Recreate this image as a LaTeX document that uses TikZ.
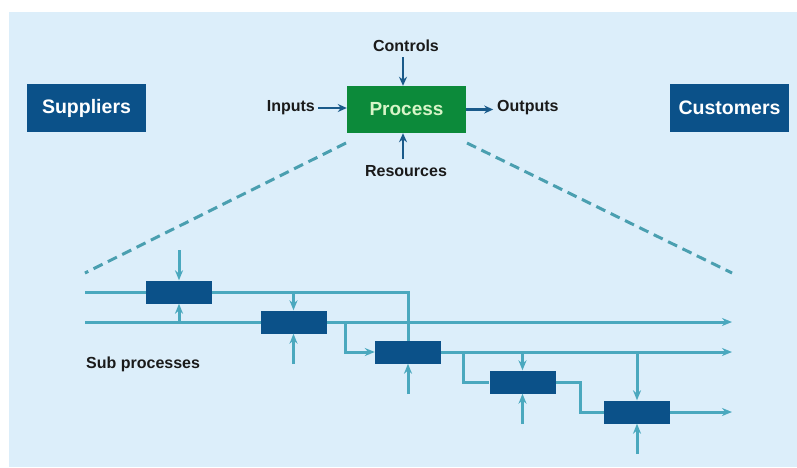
\documentclass[tikz,border=0pt]{standalone}
\usepackage{fontspec}
\setmainfont{Liberation Sans}
\usetikzlibrary{arrows.meta}
\definecolor{bgblue}{HTML}{DCEEFA}
\definecolor{darkblue}{HTML}{0B5189}
\definecolor{procgreen}{HTML}{0C8A3A}
\definecolor{proctext}{HTML}{D8F5C8}
\definecolor{arrowblue}{HTML}{1A5A8A}
\definecolor{teal}{HTML}{4AA8BE}
\definecolor{dashteal}{HTML}{4A9FB0}
\definecolor{txt}{HTML}{1A1A1A}
\tikzset{
  bigbox/.style={rectangle, fill=darkblue, text=white, minimum width=119pt, minimum height=48pt, inner sep=0pt, font=\fontsize{19.5}{23}\selectfont\bfseries},
  procbox/.style={rectangle, fill=procgreen, text=proctext, minimum width=119pt, minimum height=47pt, inner sep=0pt, font=\fontsize{19}{23}\selectfont\bfseries},
  subbox/.style={rectangle, fill=darkblue, minimum width=66pt, minimum height=23pt, inner sep=0pt},
  lbl/.style={text=txt, inner sep=0pt, font=\fontsize{16}{19}\selectfont\bfseries},
  toparrow/.style={draw=arrowblue, line width=2.6pt, -{Stealth[length=9pt,width=8pt]}},
  flow/.style={draw=teal, line width=3pt},
  flowarrow/.style={flow, -{Stealth[length=10pt,width=8pt]}},
  dashline/.style={draw=dashteal, line width=3pt, dash pattern=on 10pt off 6pt},
}
\begin{document}
\begin{tikzpicture}[x=1pt,y=-1pt]
\useasboundingbox (0,0) rectangle (797,467);
\fill[white] (0,0) rectangle (797,467);
\fill[bgblue] (9,12) rectangle (797,467);

% top level
\node[bigbox] (sup) at (86.5,108) {Suppliers};
\node[bigbox] (cus) at (729.5,108) {Customers};
\node[procbox] (proc) at (406.5,109.5) {Process};
\node[lbl, anchor=east] (inp) at (315,108) {Inputs};
\node[lbl, anchor=west] (out) at (497,108) {Outputs};
\node[lbl] (ctl) at (406,46) {Controls};
\node[lbl] (res) at (406,171) {Resources};

\draw[toparrow] (inp.east) ++(3,0) coordinate (ia) -- (ia -| proc.west);
\draw[toparrow] (proc.east) -- ++(27,0) coordinate (oa);
\coordinate (ca) at (403,57);
\draw[toparrow] (ca) -- (ca |- proc.north);
\coordinate (ra) at (403,159);
\draw[toparrow] (ra) -- (ra |- proc.south);

% dashed zoom lines
\coordinate (dl0) at (346,143);
\coordinate (dl1) at (85,273);
\coordinate (dr0) at (467,143);
\coordinate (dr1) at (732,273);
\draw[dashline] (dl0) -- (dl1);
\draw[dashline] (dr0) -- (dr1);

% sub processes
\node[lbl, anchor=west] (subl) at (86,364) {Sub processes};

\coordinate (b1c) at (179,292);
\coordinate (b2c) at (293.5,322);
\coordinate (b3c) at (408,352);
\coordinate (b4c) at (522.5,382);
\coordinate (b5c) at (637,412);

% coordinates for line ends
\coordinate (as) at (85,292);
\coordinate (bs) at (85,322);
\coordinate (be) at (732,322);
\coordinate (ce) at (732,352);
\coordinate (de) at (732,412);

% line A
\draw[flow] (as) -- (b1c);
\draw[flow] (b1c) -| (b3c);
% line B
\draw[flowarrow] (bs) -- (be);
% line C and D
\draw[flowarrow] (b3c) -- (ce);
\draw[flowarrow] (b5c) -- (de);
% branches
\coordinate (br1) at (345,322);
\coordinate (br2) at (463,352);
\coordinate (br3) at (580,382);

\node[subbox] (b1) at (b1c) {};
\node[subbox] (b2) at (b2c) {};
\node[subbox] (b3) at (b3c) {};
\node[subbox] (b4) at (b4c) {};
\node[subbox] (b5) at (b5c) {};

\draw[flowarrow] (br1) |- (b3.west);
\draw[flow] (br2) |- (b4.west);
\draw[flow] (b4.east) -- (br3) |- (b5.west);

% vertical arrows
\coordinate (t1) at (179,250);
\draw[flowarrow] (t1) -- (b1.north);
\draw[flowarrow] (b1.south |- bs) -- (b1.south);
\draw[flowarrow] (b2.north |- as) -- (b2.north);
\coordinate (u2) at (293.5,364);
\draw[flowarrow] (u2) -- (b2.south);
\coordinate (u3) at (408,394);
\draw[flowarrow] (u3) -- (b3.south);
\draw[flowarrow] (b4.north |- ce) -- (b4.north);
\coordinate (u4) at (522.5,424);
\draw[flowarrow] (u4) -- (b4.south);
\draw[flowarrow] (b5.north |- ce) -- (b5.north);
\coordinate (u5) at (637,454);
\draw[flowarrow] (u5) -- (b5.south);
\end{tikzpicture}
\end{document}
